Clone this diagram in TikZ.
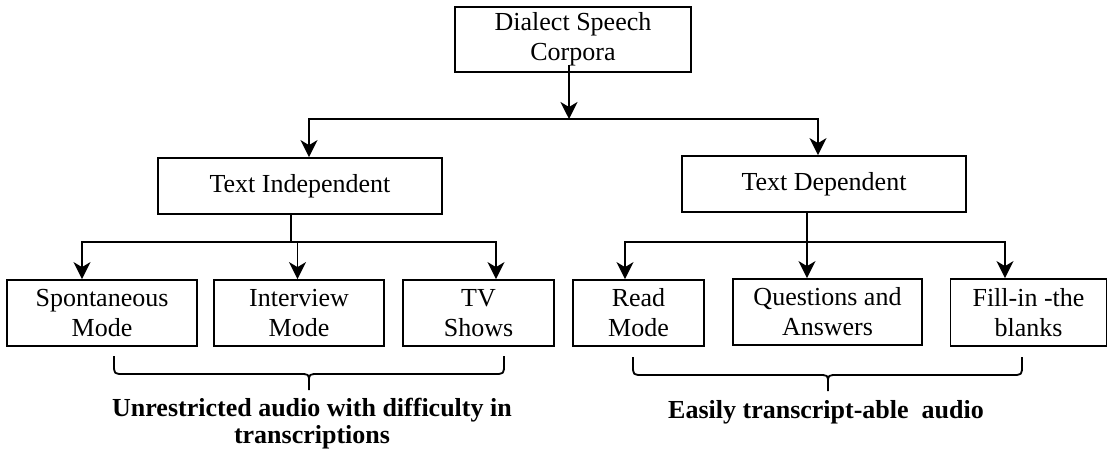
\documentclass[tikz,border=0pt]{standalone}
\usepackage{fontspec}
\setmainfont{Liberation Serif}
\usetikzlibrary{arrows.meta,calc}
\newcommand\boxfont{\fontsize{26}{30}\selectfont}
\newcommand\lblfont{\fontsize{26}{27}\selectfont\bfseries}
\begin{document}
\begin{tikzpicture}[x=1pt,y=-1pt,
  box/.style={draw, line width=1.8pt, inner sep=0pt, align=center, font=\boxfont},
  conn/.style={line width=1.8pt},
  arr/.style={conn,-{Stealth[length=17pt,width=17pt,inset=5pt]}},
  arr2/.style={conn,{Stealth[length=17pt,width=17pt,inset=5pt]}-{Stealth[length=17pt,width=17pt,inset=5pt]}},
  lbl/.style={inner sep=0pt, align=center, font=\lblfont},
  brace/.style={line width=1.8pt, line join=round}]
\useasboundingbox (0,0) rectangle (1111,457);

% boxes
\node[box, minimum width=236pt, minimum height=65pt] (top) at (573,39.5) {Dialect Speech\\Corpora};
\node[box, minimum width=284pt, minimum height=56pt] (ti) at (300,186) {Text Independent};
\node[box, minimum width=284pt, minimum height=56pt] (td) at (824,184) {Text Dependent};
\node[box, minimum width=190pt, minimum height=66pt] (sp) at (102,313) {Spontaneous\\Mode};
\node[box, minimum width=170pt, minimum height=66pt] (iv) at (299,313) {Interview\\Mode};
\node[box, minimum width=151pt, minimum height=66pt] (tv) at (478.5,313) {TV\\Shows};
\node[box, minimum width=131pt, minimum height=66pt] (rd) at (638.5,313) {Read\\Mode};
\node[box, minimum width=189pt, minimum height=66pt] (qa) at (827.5,312) {Questions and\\Answers};
\node[box, minimum width=156pt, minimum height=67pt] (fi) at (1028.5,312.5) {Fill-in -the\\blanks};

% junction coordinates
\coordinate (j0) at (569,119);
\coordinate (ja) at (309,119);
\coordinate (jb) at (818,119);
\coordinate (l1) at (291,242);
\coordinate (l1a) at (82,242);
\coordinate (l1b) at (297.5,242);
\coordinate (l1c) at (496,242);
\coordinate (l2) at (807,242);
\coordinate (l2a) at (625,242);
\coordinate (l2b) at (807,242);
\coordinate (l2c) at (1005,242);

% level 1 -> 2
\draw[arr] ([yshift=8pt]top.south -| j0) -- (j0);
\draw[arr2] (ti.north -| ja) -- (ja) -- (jb) -- (td.north -| jb);

% level 2 -> 3 (left)
\draw[conn] (ti.south -| l1) -- (l1);
\draw[arr2] (sp.north -| l1a) -- (l1a) -- (l1c) -- (tv.north -| l1c);
\draw[arr] (l1b) -- (iv.north -| l1b);

% level 2 -> 3 (right)
\draw[conn] (td.south -| l2) -- (l2);
\draw[arr2] (rd.north -| l2a) -- (l2a) -- (l2c) -- (fi.north -| l2c);
\draw[arr] (l2b) -- (qa.north -| l2b);

% braces
\draw[brace] (114,356) -- (114,364) .. controls (114,374) .. (124,374) -- (299,374)
  .. controls (309,374) .. (309,382) -- (309,390);
\draw[brace] (309,382) .. controls (309,374) .. (319,374) -- (494,374)
  .. controls (504,374) .. (504,364) -- (504,356);
\draw[brace] (633,357) -- (633,365) .. controls (633,375) .. (643,375) -- (818,375)
  .. controls (828,375) .. (828,383) -- (828,391);
\draw[brace] (828,383) .. controls (828,375) .. (838,375) -- (1012,375)
  .. controls (1022,375) .. (1022,365) -- (1022,357);

% labels
\node[lbl] (lab1) at (312,424) {Unrestricted audio with difficulty in\\transcriptions};
\node[lbl, anchor=base] (lab2) at (826,418) {Easily transcript-able\ \ audio};
\end{tikzpicture}
\end{document}
